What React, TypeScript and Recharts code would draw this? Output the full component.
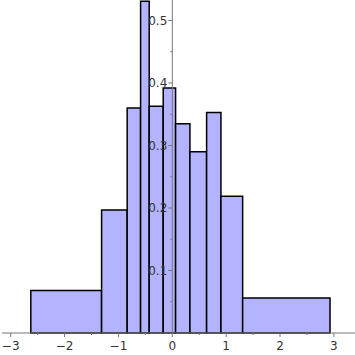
import { ComposedChart, XAxis, YAxis, ReferenceArea, ReferenceLine } from 'recharts';

// histogram bins (variable width)
const binEdges = [-2.627, -1.313, -0.838, -0.589, -0.429, -0.169, 0.061, 0.327, 0.637, 0.903, 1.306, 2.928];
const binHeights = [0.068, 0.197, 0.36, 0.531, 0.363, 0.392, 0.335, 0.29, 0.353, 0.219, 0.056];

const xTicks = [-3, -2.5, -2, -1.5, -1, -0.5, 0, 0.5, 1, 1.5, 2, 2.5, 3];
const yMajor = [0.1, 0.2, 0.3, 0.4, 0.5];
const yMinor = [0.05, 0.15, 0.25, 0.35, 0.45];

const X_DOMAIN: [number, number] = [-3.162, 3.392];
const Y_DOMAIN: [number, number] = [0, 0.5328];

const AXIS = '#777';
const TEXT = '#333';
const FONT = 'DejaVu Sans, sans-serif';

const bins = binHeights.map((h, i) => ({ x0: binEdges[i], x1: binEdges[i + 1], h }));

function fmt(v: number) {
  return v < 0 ? '\u2212' + Math.abs(v) : String(v);
}

function XTick(props: any) {
  const { x, y, payload } = props;
  const v = payload.value;
  const major = Number.isInteger(v);
  return (
    <g>
      <line x1={x} x2={x} y1={y} y2={y + (major ? 4 : 2)} stroke={AXIS} />
      {major && (
        <text x={x} y={y + 17} textAnchor="middle" fontSize={12} fill={TEXT} fontFamily={FONT}>
          {fmt(v)}
        </text>
      )}
    </g>
  );
}

export default function App() {
  return (
    <div style={{ position: 'absolute', left: 0, top: 0, width: 355, height: 355, background: '#fff' }}>
      <ComposedChart width={355} height={355} data={bins} margin={{ top: 0, right: 0, left: 2, bottom: 0 }}>
        <XAxis
          type="number"
          dataKey="x0"
          domain={X_DOMAIN}
          allowDataOverflow
          ticks={xTicks}
          interval={0}
          tick={<XTick />}
          tickLine={false}
          tickSize={0}
          tickMargin={0}
          axisLine={{ stroke: AXIS }}
          height={22}
        />
        <YAxis type="number" domain={Y_DOMAIN} allowDataOverflow hide />
        {bins.map((b, i) => (
          <ReferenceArea
            key={'bin' + i}
            x1={b.x0}
            x2={b.x1}
            y1={0}
            y2={b.h}
            fill="#b3b3ff"
            fillOpacity={1}
            stroke="#000"
            strokeWidth={1.5}
            isFront
          />
        ))}
        <ReferenceLine segment={[{ x: 0, y: 0 }, { x: 0, y: Y_DOMAIN[1] }]} stroke={AXIS} isFront />
        {yMinor.map((v) => (
          <ReferenceLine key={'ymin' + v} segment={[{ x: -0.037, y: v }, { x: 0, y: v }]} stroke={AXIS} isFront />
        ))}
        {yMajor.map((v) => (
          <ReferenceLine
            key={'ymaj' + v}
            segment={[{ x: -0.074, y: v }, { x: 0, y: v }]}
            stroke={AXIS}
            isFront
            label={{ value: String(v), position: 'left', offset: 1, fontSize: 12, fill: TEXT, fontFamily: FONT }}
          />
        ))}
      </ComposedChart>
    </div>
  );
}
